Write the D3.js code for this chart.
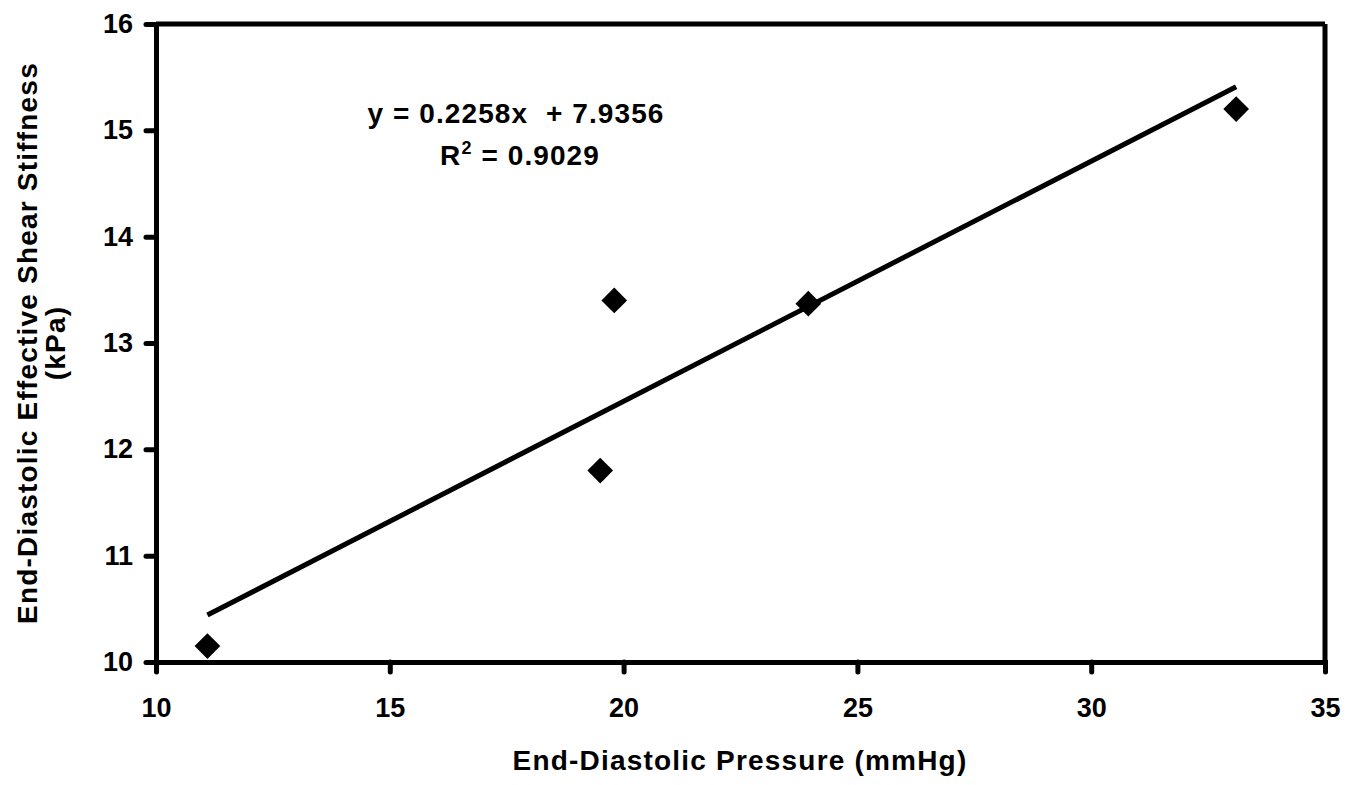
<!DOCTYPE html>
<html>
<head>
<meta charset="utf-8">
<script src="https://cdn.jsdelivr.net/npm/d3@7"></script>
<style>
  body { margin: 0; background: #fff; }
  text { font-family: "Liberation Sans", Arial, sans-serif; font-weight: bold; fill: #000; }
</style>
</head>
<body>
<div id="chart"></div>
<script>
// data
var pressure  = [11.1, 19.5, 19.8, 23.95, 33.1];   // mmHg
var stiffness = [10.15, 11.8, 13.4, 13.37, 15.2];  // kPa
var xTicks = [10, 15, 20, 25, 30, 35];
var yTicks = [10, 11, 12, 13, 14, 15, 16];
var slope = 0.2258, intercept = 7.9356, r2 = 0.9029;

var width = 1363, height = 785;
var svg = d3.select("#chart").append("svg")
    .attr("width", width)
    .attr("height", height);

var x = d3.scaleLinear().domain([10, 35]).range([156, 1325]);
var y = d3.scaleLinear().domain([10, 16]).range([662, 24]);

var xAxis = d3.axisBottom(x).tickValues(xTicks).tickFormat(d3.format("d"))
    .tickSize(10).tickSizeOuter(0).tickPadding(26);
var yAxis = d3.axisLeft(y).tickValues(yTicks).tickFormat(d3.format("d"))
    .tickSize(10).tickSizeOuter(0).tickPadding(13);

// top and right frame lines
svg.append("line")
    .attr("x1", x(10)).attr("x2", x(35))
    .attr("y1", y(16)).attr("y2", y(16))
    .attr("stroke", "#000").attr("stroke-width", 5);
svg.append("line")
    .attr("x1", x(35)).attr("x2", x(35))
    .attr("y1", y(16)).attr("y2", y(10))
    .attr("stroke", "#000").attr("stroke-width", 5);

var gx = svg.append("g")
    .attr("transform", "translate(0," + y(10) + ")")
    .call(xAxis);
var gy = svg.append("g")
    .attr("transform", "translate(" + x(10) + ",0)")
    .call(yAxis);

[gx, gy].forEach(function(g) {
    g.select(".domain").attr("stroke-width", 5).attr("stroke-linecap", "square");
    g.selectAll(".tick line").attr("stroke-width", 5).attr("stroke-linecap", "round");
    g.selectAll(".tick text")
        .style("font-size", "27px")
        .style("font-family", "'Liberation Sans', Arial, sans-serif")
        .style("font-weight", "bold");
});

// trend line over the data range
var x0 = d3.min(pressure), x1 = d3.max(pressure);
svg.append("line")
    .attr("x1", x(x0)).attr("y1", y(slope * x0 + intercept))
    .attr("x2", x(x1)).attr("y2", y(slope * x1 + intercept))
    .attr("stroke", "#000").attr("stroke-width", 5);

// diamond markers
var diamond = d3.symbol().type(d3.symbolSquare).size(330);
svg.selectAll(".pt")
    .data(pressure)
    .enter().append("path")
    .attr("class", "pt")
    .attr("d", diamond)
    .attr("fill", "#000")
    .attr("transform", function(d, i) {
        return "translate(" + x(d) + "," + y(stiffness[i]) + ") rotate(45)";
    });

// equation
svg.append("text")
    .attr("x", 516).attr("y", 123)
    .attr("text-anchor", "middle")
    .style("font-size", "28px")
    .style("letter-spacing", "1.1px")
    .attr("xml:space", "preserve")
    .text("y = " + slope + "x  + " + intercept);
var r = svg.append("text")
    .attr("x", 520).attr("y", 165)
    .attr("text-anchor", "middle")
    .style("font-size", "28px")
    .style("letter-spacing", "1.1px");
r.append("tspan").text("R");
r.append("tspan").attr("dy", -11).style("font-size", "18px").text("2");
r.append("tspan").attr("dy", 11).text(" = " + r2);

// axis titles
svg.append("text")
    .attr("x", 740).attr("y", 770)
    .attr("text-anchor", "middle")
    .style("font-size", "28px")
    .style("letter-spacing", "1.2px")
    .text("End-Diastolic Pressure (mmHg)");

var yt = svg.append("text")
    .attr("transform", "translate(37,343) rotate(-90)")
    .attr("text-anchor", "middle")
    .style("font-size", "28px")
    .style("letter-spacing", "1.2px");
yt.append("tspan").attr("x", 0).attr("y", 0).text("End-Diastolic Effective Shear Stiffness");
yt.append("tspan").attr("x", 0).attr("y", 28).text("(kPa)");
</script>
</body>
</html>
